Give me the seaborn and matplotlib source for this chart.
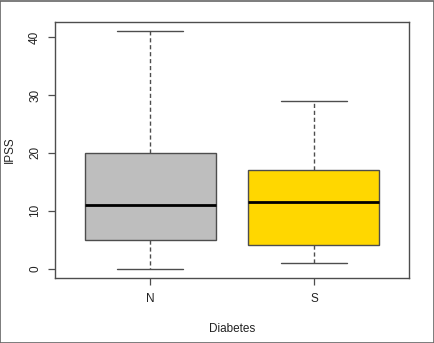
import matplotlib
matplotlib.use("Agg")
import matplotlib.pyplot as plt
import seaborn as sns
import pandas as pd
from matplotlib.patches import Rectangle

# Data: five-number summaries
groups = ["N", "S"]
values_N = [0, 5, 11, 20, 41]
values_S = [1, 4, 11.5, 17, 29]
box_colors = ["#BEBEBE", "#FFD700"]
y_ticks = [0, 10, 20, 30, 40]

df = pd.DataFrame({
    "Diabetes": ["N"] * len(values_N) + ["S"] * len(values_S),
    "IPSS": values_N + values_S,
})

sns.set_style("white")
plt.rcParams["font.family"] = ["Liberation Sans", "DejaVu Sans"]

fig = plt.figure(figsize=(4.35, 3.43), dpi=100)
ax = fig.add_axes([55 / 435, 65 / 343, 354 / 435, 256 / 343])

edge = "#4d4d4d"
sns.boxplot(
    data=df, x="Diabetes", y="IPSS", hue="Diabetes", order=groups,
    palette=box_colors, saturation=1, legend=False, width=0.8, whis=1.5, ax=ax,
    linewidth=1.0, linecolor=edge,
    boxprops=dict(edgecolor=edge, linewidth=1.0),
    whiskerprops=dict(color=edge, linestyle=(0, (3, 2)), linewidth=1.0),
    capprops=dict(color=edge, linewidth=1.0),
    medianprops=dict(color="black", linewidth=2.0),
    showfliers=False,
)

# caps width = half box width (R staplewex)
for line in ax.lines:
    xd = line.get_xdata()
    if len(xd) == 2 and xd[0] != xd[1] and line.get_linestyle() == "-" and line.get_color() != "black":
        c = (xd[0] + xd[1]) / 2
        line.set_xdata([c - 0.2, c + 0.2])

ax.set_xlim(-0.58, 1.58)
ax.set_ylim(-1.64, 42.64)
ax.set_yticks(y_ticks)
ax.set_yticklabels([str(v) for v in y_ticks], rotation=90, va="center")
ax.set_xlabel("Diabetes", fontsize=8.5, color="#222222", labelpad=13)
ax.set_ylabel("IPSS", fontsize=8.5, color="#222222", labelpad=9.5)
ax.tick_params(axis="both", direction="out", length=5, width=0.9, color=edge,
               labelsize=8.5, labelcolor="#222222", left=True, bottom=True)
ax.tick_params(axis="x", pad=6)
ax.tick_params(axis="y", pad=5)
for s in ax.spines.values():
    s.set_visible(True)
    s.set_color(edge)
    s.set_linewidth(1.0)

fig.patches.append(Rectangle((0.001, 0.001), 0.996, 0.996, transform=fig.transFigure,
                             fill=False, edgecolor="#666666", linewidth=1.2))

fig.savefig("out.png", dpi=100)
